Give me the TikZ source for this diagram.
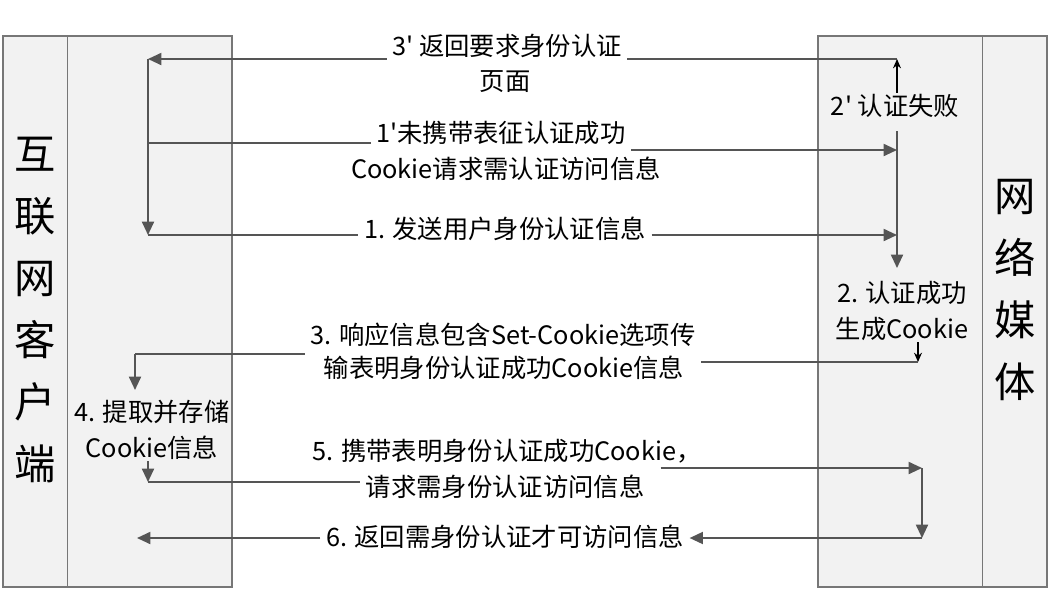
\documentclass[tikz,border=0pt]{standalone}
\usepackage{fontspec}
\setmainfont{Noto Sans CJK SC}
\usetikzlibrary{positioning, arrows.meta}
\definecolor{flowgray}{HTML}{555555}
\definecolor{boxgray}{HTML}{777777}

\begin{document}
\begin{tikzpicture}[x=0.75pt, y=-0.75pt,
    every node/.style={font=\fontsize{19}{27}\selectfont},
    column/.style={draw=boxgray, fill=black!5, line width=1.1pt,
                   minimum width=171.75pt, minimum height=413.25pt, inner sep=0pt},
    side/.style={font=\fontsize{31}{46.5}\selectfont, align=center, inner sep=0pt},
    lbl/.style={inner xsep=4pt, inner ysep=1pt, align=center},
    flow/.style={draw=flowgray, line width=1.4pt, -{Triangle[length=10pt, width=9pt]}},
    link/.style={draw=flowgray, line width=1.4pt},
    tick/.style={draw=black, line width=0.9pt, -{Stealth[length=7pt, width=6pt]}},
]
\useasboundingbox (0,0) rectangle (1061,594);

% Client and server columns
\node[column] (client) at (117.5,311.5) {};
\node[column] (server) at (932.5,311.5) {};
\draw[boxgray, line width=1.1pt] ([xshift=48.75pt]client.north west) -- ([xshift=48.75pt]client.south west);
\draw[boxgray, line width=1.1pt] ([xshift=-48.75pt]server.north east) -- ([xshift=-48.75pt]server.south east);
\node[side] (clientname) at (35.5,310) {互\\联\\网\\客\\户\\端};
\node[side] (servername) at (1015,290) {网\\络\\媒\\体};

% Message labels
\node[lbl] (t3pa) at (507,46) {3\textquotesingle{} 返回要求身份认证};
\node[lbl] (t3pb) at (505,82) {页面};
\node[lbl] (t1pa) at (501,133) {1\textquotesingle 未携带表征认证成功};
\node[lbl] (t1pb) at (506,169) {Cookie请求需认证访问信息};
\node[lbl] (t1) at (505,229) {1. 发送用户身份认证信息};
\node[lbl] (t2p) at (895,106) {2\textquotesingle{} 认证失败};
\node[lbl] (t2) at (902,311) {2. 认证成功\\生成Cookie};
\node[lbl] (t3a) at (503,335) {3. 响应信息包含Set-Cookie选项传};
\node[lbl] (t3b) at (504,368) {输表明身份认证成功Cookie信息};
\node[lbl] (t4) at (152,430) {4. 提取并存储\\Cookie信息};
\node[lbl] (t5a) at (507,451) {5. 携带表明身份认证成功Cookie，};
\node[lbl] (t5b) at (505,487) {请求需身份认证访问信息};
\node[lbl] (t6) at (505,537) {6. 返回需身份认证才可访问信息};

% Turning points of the lanes
\coordinate (c3p) at (148,59);
\coordinate (s3p) at (897,59);
\coordinate (c1p) at (148,143);
\coordinate (s1p) at (897,150);
\coordinate (c1) at (148,235);
\coordinate (s1) at (897,235);
\coordinate (s2) at (897,268);
\coordinate (s3) at (918,362);
\coordinate (c3) at (135,354);
\coordinate (c4) at (135,390);
\coordinate (c5) at (148,482);
\coordinate (s5) at (922,468);
\coordinate (s6) at (922,538);
\coordinate (c6) at (137,538);

% 3' back to the client, then 1' and 1.
\draw[link] (s3p) -- (t3pa.east |- s3p);
\draw[flow] (t3pa.west |- c3p) -- (c3p);
\draw[flow] (c3p) -- (c1);
\draw[link] (c1p) -- (t1pa.west |- c1p);
\draw[flow] (t1pa.east |- s1p) -- (s1p);
\draw[link] (c1) -- (t1.west |- c1);
\draw[flow] (t1.east |- s1) -- (s1);

% 2' failed, 2. succeeded
\draw[tick] (t2p.north -| s3p) -- (s3p);
\draw[flow] ([yshift=-9pt]t2p.south -| s1) -- (s2);

% 3. Set-Cookie to the client
\draw[tick] (t2.south -| s3) -- (s3);
\draw[link] (s3) -- (t3a.east |- s3);
\draw[link] (t3a.west |- c3) -- (c3);
\draw[flow] (c3) -- (c4);

% 5. request with cookie, 6. reply
\draw[flow] (t4.south -| c5) -- (c5);
\draw[link] (c5) -- (t5b.west |- c5);
\draw[flow] ([xshift=8pt]t5b.east |- s5) -- (s5);
\draw[flow] (s5) -- (s6);
\draw[flow] (s6) -- (t6.east |- s6);
\draw[flow] (t6.west |- s6) -- (c6);

\end{tikzpicture}
\end{document}
